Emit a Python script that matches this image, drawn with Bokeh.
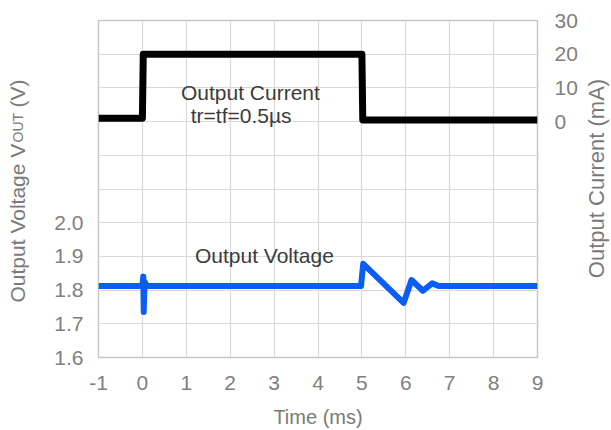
import numpy as np
from math import pi
from bokeh.plotting import figure
from bokeh.layouts import row
from bokeh.models import (Range1d, LinearAxis, FixedTicker, PrintfTickFormatter, Label)
from bokeh.embed import file_html
from bokeh.resources import INLINE

# ---- data ----
time_ticks = [-1, 0, 1, 2, 3, 4, 5, 6, 7, 8, 9]
volt_ticks = [1.6, 1.7, 1.8, 1.9, 2.0]
cur_ticks = [0, 10, 20, 30]

cur_t = [-1.0, 0.0, 0.02, 5.0, 5.02, 9.0]
cur_ma = [1.0, 1.0, 20.0, 20.0, 0.5, 0.5]

volt_t = [-1.0, 0.0, 0.02, 0.03, 0.05, 0.1, 4.98, 5.03, 5.95, 6.13, 6.39, 6.6, 6.75, 9.0]
volt_v = [1.812, 1.812, 1.84, 1.735, 1.825, 1.812, 1.812, 1.878, 1.762, 1.83, 1.798,
          1.82, 1.812, 1.812]

FONT = "Liberation Sans"
TICK_COLOR = "#808080"
LABEL_COLOR = "#7a7a7a"
TEXT_COLOR = "#3c3c3c"

W_LEFT = 38
W_RIGHT = 30
p = figure(width=611 - W_LEFT - W_RIGHT, height=430, output_backend="svg",
           toolbar_location=None,
           x_range=Range1d(-1, 9), y_range=Range1d(1.6, 2.6),
           min_border_left=98 - W_LEFT, min_border_right=74 - W_RIGHT,
           min_border_top=20, min_border_bottom=73)
p.extra_y_ranges = {"cur": Range1d(-70, 30)}

p.outline_line_color = "#c8c8c8"
p.outline_line_width = 1.5

# grids
p.xgrid.ticker = FixedTicker(ticks=time_ticks)
p.ygrid.ticker = FixedTicker(ticks=list(np.round(np.arange(1.6, 2.61, 0.1), 2)))
for g in (p.xgrid, p.ygrid):
    g.grid_line_color = "#dadada"
    g.grid_line_width = 1.2

def style_axis(ax, standoff):
    ax.axis_line_color = None
    ax.major_tick_line_color = None
    ax.minor_tick_line_color = None
    ax.major_tick_out = 0
    ax.major_tick_in = 0
    ax.minor_tick_out = 0
    ax.major_label_standoff = standoff
    ax.major_label_text_font = FONT
    ax.major_label_text_font_size = "21px"
    ax.major_label_text_color = TICK_COLOR
    ax.axis_label_text_font = FONT
    ax.axis_label_text_font_size = "20px"
    ax.axis_label_text_font_style = "normal"
    ax.axis_label_text_color = LABEL_COLOR

xa = p.xaxis[0]
xa.ticker = FixedTicker(ticks=time_ticks)
xa.formatter = PrintfTickFormatter(format="%d")
style_axis(xa, 18)
xa.axis_label = "Time (ms)"
xa.axis_label_standoff = 13

ya = p.yaxis[0]
ya.ticker = FixedTicker(ticks=volt_ticks)
ya.formatter = PrintfTickFormatter(format="%.1f")
style_axis(ya, 15)

ra = LinearAxis(y_range_name="cur", ticker=FixedTicker(ticks=cur_ticks),
                formatter=PrintfTickFormatter(format="%d"))
style_axis(ra, 17)
p.add_layout(ra, "right")

# traces
p.line(cur_t, cur_ma, y_range_name="cur", line_color="black", line_width=7,
       line_join="round")
p.line(volt_t, volt_v, line_color="#0b5ef5", line_width=6, line_join="round")

# in-plot texts
for txt, x, y, rng in [("Output Current", 2.46, 8.6, "cur"),
                       ("tr=tf=0.5µs", 2.25, 1.8, "cur")]:
    p.add_layout(Label(x=x, y=y, y_range_name=rng, text=txt, text_font=FONT,
                       text_font_size="21px", text_color=TEXT_COLOR,
                       text_align="center", text_baseline="middle"))
p.add_layout(Label(x=2.78, y=1.904, text="Output Voltage", text_font=FONT,
                   text_font_size="21px", text_color=TEXT_COLOR,
                   text_align="center", text_baseline="middle"))

# side title strips (companion figures; their frames align with the main frame)
def strip(width):
    f = figure(width=width, height=430, output_backend="svg", toolbar_location=None,
               x_range=Range1d(0, 1), y_range=Range1d(0, 1),
               x_axis_location=None, y_axis_location=None, min_border=0)
    f.outline_line_color = None
    f.grid.visible = False
    return f

lf = strip(W_LEFT)
rf = strip(W_RIGHT)

def slabel(fig, text, x, y, size, align="left", baseline="alphabetic"):
    fig.add_layout(Label(x=x, y=y, x_units="screen", y_units="screen", text=text,
                         angle=pi / 2, text_font=FONT, text_font_size=size,
                         text_color=LABEL_COLOR, text_align=align,
                         text_baseline=baseline))

# "Output Voltage V_OUT (V)"
slabel(lf, "Output Voltage V", 17, 55, "21px")
slabel(lf, "OUT", 17, 215, "14px")
slabel(lf, "(V)", 17, 250, "21px")
# "Output Current (mA)"
slabel(rf, "Output Current (mA)", 15, 179, "22px", align="center", baseline="middle")

layout = row(lf, p, rf)
open("out.html", "w").write(file_html(layout, INLINE))
